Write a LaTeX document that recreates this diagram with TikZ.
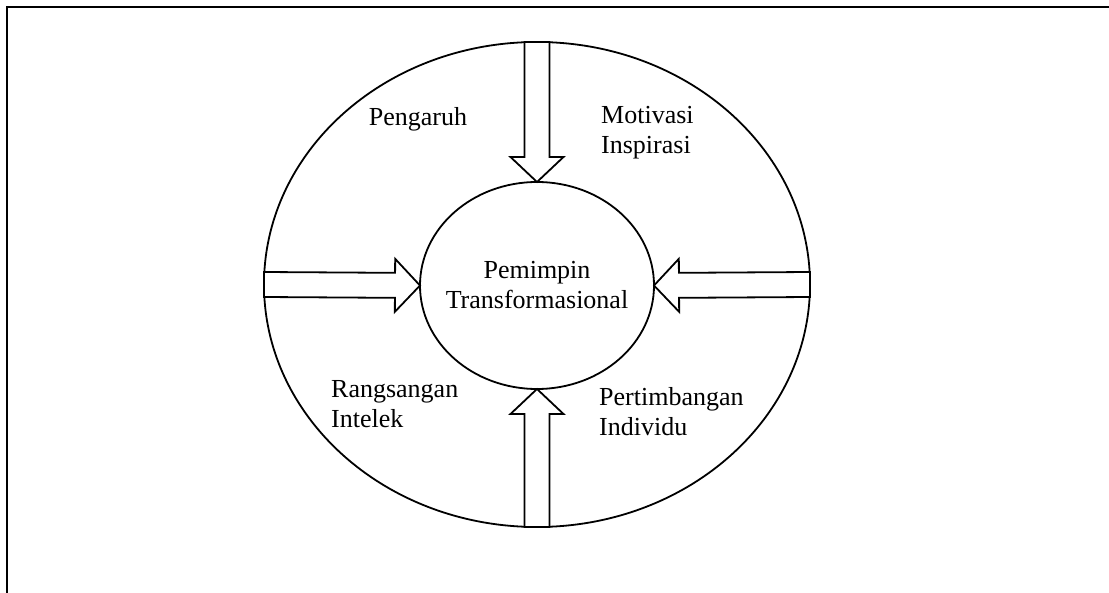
\documentclass[tikz,border=0pt]{standalone}
\usepackage{fontspec}
\setmainfont{Liberation Serif}
\usetikzlibrary{shapes.geometric,calc}

% hollow arrow from #1 (tail) to #2 (tip)
\newcommand{\blockarrow}[2]{%
  \draw[fat] let \p1=(#1), \p2=(#2), \p3=($(\p2)!25pt!(\p1)$) in
    ($(\p1)!12.5pt!90:(\p2)$) -- ($(\p3)!12.5pt!90:(\p2)$)
    -- ($(\p3)!26.5pt!90:(\p2)$) -- (\p2)
    -- ($(\p3)!26.5pt!-90:(\p2)$) -- ($(\p3)!12.5pt!-90:(\p2)$)
    -- ($(\p1)!12.5pt!-90:(\p2)$) -- cycle;}

\begin{document}
\begin{tikzpicture}[x=1pt,y=-1pt,
  ring/.style={ellipse,draw,line width=1.8pt,inner sep=0pt,outer sep=0pt},
  fat/.style={draw,fill=white,line width=1.8pt,line join=miter},
  lbl/.style={inner sep=0pt,font=\fontsize{26}{30}\selectfont},
  frame/.style={line width=2.5pt}]
\useasboundingbox (0,0) rectangle (1109,593);
\draw[frame] (1109,7) -- (7,7) -- (7,593);

\node[ring,minimum width=546pt,minimum height=485pt] (outer) at (537,284.5) {};
\node[ring,minimum width=234pt,minimum height=207pt] (core) at (537,285.5) {};
\node[lbl,align=center] (core-text) at (core) {Pemimpin\\Transformasional};

\blockarrow{outer.north}{core.north}
\blockarrow{outer.south}{core.south}
\blockarrow{outer.west}{core.west}
\blockarrow{outer.east}{core.east}

\node[lbl] (pengaruh) at (418,119) {Pengaruh};
\node[lbl,anchor=west,align=left] (motivasi) at (601,133) {Motivasi\\Inspirasi};
\node[lbl,anchor=west,align=left] (rangsangan) at (331,404) {Rangsangan\\Intelek};
\node[lbl,anchor=west,align=left] (pertimbangan) at (599,412) {Pertimbangan\\Individu};
\end{tikzpicture}
\end{document}
